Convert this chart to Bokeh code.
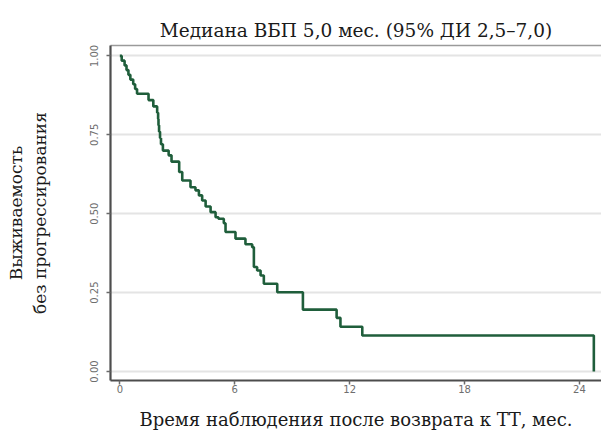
from bokeh.plotting import figure
from bokeh.embed import file_html
from bokeh.resources import INLINE
from bokeh.models import Range1d, FixedTicker, LinearAxis

# Kaplan-Meier step data (months, survival probability)
times = [0.0, 0.1, 0.25, 0.35, 0.45, 0.55, 0.7, 0.8, 0.9,
         1.5, 1.75, 1.95, 2.0, 2.02, 2.05, 2.1, 2.15, 2.25, 2.55, 2.7,
         3.1, 3.26, 3.69, 3.95, 4.13, 4.30, 4.48, 4.74, 5.0, 5.15, 5.43,
         5.52, 6.04, 6.56, 6.91, 7.0, 7.17, 7.35, 7.52, 8.22, 9.56,
         11.32, 11.52, 12.66, 24.75]
surv = [1.0, 0.985, 0.97, 0.955, 0.94, 0.925, 0.91, 0.895, 0.88,
        0.86, 0.84, 0.82, 0.80, 0.78, 0.76, 0.74, 0.72, 0.70, 0.685, 0.665,
        0.632, 0.605, 0.584, 0.574, 0.558, 0.542, 0.523, 0.505, 0.489, 0.484, 0.47,
        0.442, 0.421, 0.403, 0.394, 0.331, 0.32, 0.304, 0.278, 0.251, 0.196,
        0.170, 0.142, 0.114, 0.0]

x_ticks = [0, 6, 12, 18, 24]
y_ticks = [0.0, 0.25, 0.5, 0.75, 1.0]
y_tick_labels = ["0.00", "0.25", "0.50", "0.75", "1.00"]

title_text = "Медиана ВБП 5,0 мес. (95% ДИ 2,5–7,0)"
x_label = "Время наблюдения после возврата к ТТ, мес."
y_label = "Выживаемость\nбез прогрессирования"

SERIF = "DejaVu Serif"

p = figure(width=601, height=438, output_backend="svg", toolbar_location=None,
           x_range=Range1d(-0.486, 25.15), y_range=Range1d(-0.0285, 1.033),
           min_border_left=110, min_border_right=0, min_border_top=45,
           min_border_bottom=58)
p.background_fill_color = "white"
p.border_fill_color = "white"
p.outline_line_color = None

xa = p.below[0]
ya = p.left[0]

# top border of the plot region (axis line only, no ticks or labels)
top = LinearAxis(ticker=FixedTicker(ticks=[]),
                 major_tick_line_color=None, minor_tick_line_color=None,
                 axis_line_color="#9a9a9a", axis_line_width=1.5)
p.add_layout(top, "above")

p.title.text = title_text
p.title.text_font = SERIF
p.title.text_font_size = "18.5px"
p.title.text_font_style = "normal"
p.title.text_color = "#1a1a1a"
p.title.align = "center"
p.title.standoff = 9

# grid
p.xgrid.grid_line_color = None
p.ygrid.ticker = FixedTicker(ticks=y_ticks)
p.ygrid.grid_line_color = "#e4e4e4"
p.ygrid.grid_line_width = 2

# axes
xa.ticker = FixedTicker(ticks=x_ticks)
ya.ticker = FixedTicker(ticks=y_ticks)
ya.major_label_overrides = {t: l for t, l in zip(y_ticks, y_tick_labels)}
ya.major_label_orientation = "vertical"
for ax in (xa, ya):
    ax.axis_line_color = "#4d4d4d"
    ax.axis_line_width = 2.2
    ax.major_tick_line_color = "#6a6a6a"
    ax.major_tick_line_width = 1.5
    ax.major_tick_out = 4
    ax.major_tick_in = 0
    ax.minor_tick_line_color = None
    ax.major_label_text_font = "DejaVu Sans"
    ax.major_label_text_font_size = "10px"
    ax.major_label_text_color = "#6e6e6e"
    ax.axis_label_text_font = SERIF
    ax.axis_label_text_font_style = "normal"
    ax.axis_label_text_color = "#1a1a1a"

xa.axis_label = x_label
xa.axis_label_text_font_size = "18px"
xa.major_label_standoff = 0
xa.axis_label_standoff = 13
ya.axis_label = y_label
ya.axis_label_text_font_size = "17px"
ya.major_label_standoff = 8
ya.axis_label_standoff = 38

p.step(times, surv, mode="after", line_color="#1f5e3b", line_width=2.6)

open("out.html", "w").write(file_html(p, INLINE))
